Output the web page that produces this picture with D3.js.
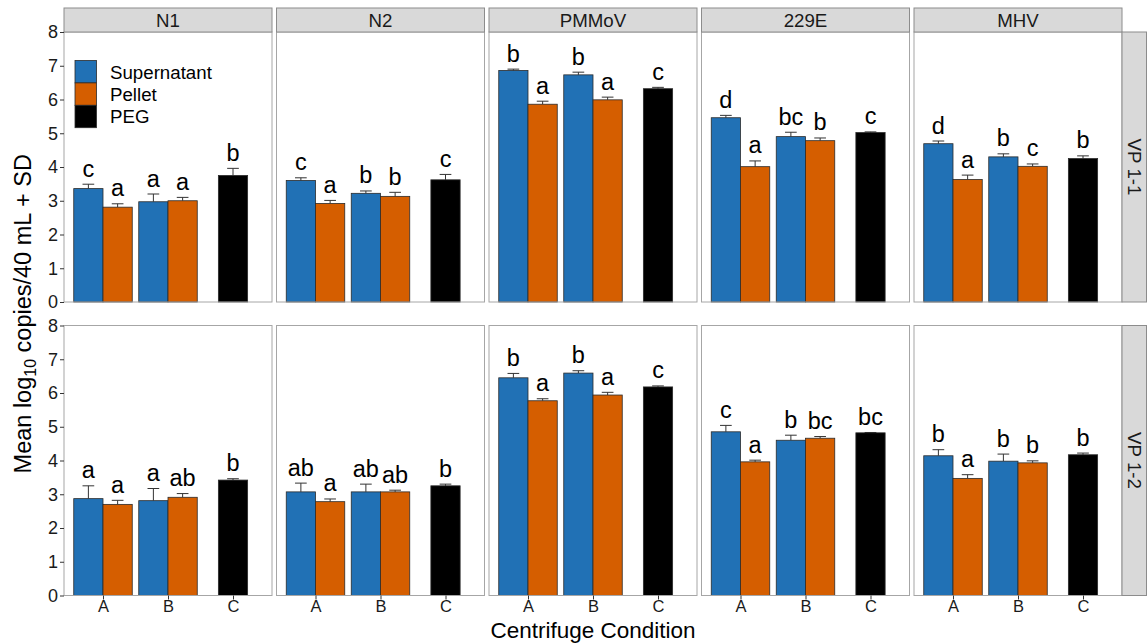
<!DOCTYPE html>
<html><head><meta charset="utf-8">
<script src="https://cdn.jsdelivr.net/npm/d3@7"></script>
<style>body{margin:0;background:#fff;} svg{display:block;font-family:Arial,"Liberation Sans",sans-serif;}</style>
</head><body>
<svg id="chart" width="1148" height="643"></svg>
<script>
// ---- data ----
const viruses = ["N1", "N2", "PMMoV", "229E", "MHV"];
const samples = ["VP 1-1", "VP 1-2"];
const conditions = ["A", "B", "C"];
const fractions = ["Supernatant", "Pellet", "PEG"];
// bar order inside each panel
const barCondition = ["A", "A", "B", "B", "C"];
const barFraction = ["Supernatant", "Pellet", "Supernatant", "Pellet", "PEG"];
const yTicks = [0, 1, 2, 3, 4, 5, 6, 7, 8];

// VP 1-1 (rows = viruses, columns = bars)
const meanVP11 = [
  [3.36, 2.81, 2.97, 3.00, 3.75],
  [3.60, 2.92, 3.22, 3.13, 3.62],
  [6.86, 5.86, 6.73, 5.99, 6.32],
  [5.46, 4.01, 4.90, 4.78, 5.02],
  [4.69, 3.63, 4.30, 4.02, 4.25]
];
const sdVP11 = [
  [0.13, 0.10, 0.23, 0.10, 0.21],
  [0.08, 0.09, 0.07, 0.12, 0.16],
  [0.04, 0.09, 0.08, 0.08, 0.04],
  [0.07, 0.17, 0.13, 0.08, 0.02],
  [0.08, 0.13, 0.09, 0.07, 0.08]
];
const letterVP11 = [
  ["c", "a", "a", "a", "b"],
  ["c", "a", "b", "b", "c"],
  ["b", "a", "b", "a", "c"],
  ["d", "a", "bc", "b", "c"],
  ["d", "a", "b", "c", "b"]
];
// VP 1-2
const meanVP12 = [
  [2.87, 2.70, 2.81, 2.91, 3.42],
  [3.07, 2.78, 3.07, 3.07, 3.25],
  [6.45, 5.77, 6.59, 5.94, 6.18],
  [4.85, 3.96, 4.60, 4.66, 4.82],
  [4.14, 3.47, 3.98, 3.93, 4.17]
];
const sdVP12 = [
  [0.38, 0.12, 0.36, 0.11, 0.04],
  [0.26, 0.08, 0.23, 0.05, 0.05],
  [0.13, 0.06, 0.07, 0.08, 0.03],
  [0.19, 0.05, 0.15, 0.05, 0.01],
  [0.18, 0.11, 0.21, 0.06, 0.05]
];
const letterVP12 = [
  ["a", "a", "a", "ab", "b"],
  ["ab", "a", "ab", "ab", "b"],
  ["b", "a", "b", "a", "c"],
  ["c", "a", "b", "bc", "bc"],
  ["b", "a", "b", "b", "b"]
];
const fillColors = ["#2171B5", "#D55E00", "#000000"];

// ---- layout ----
const FONT = "Arial,'Liberation Sans',sans-serif";
const svg = d3.select("#chart");
const panelLeft = 64, panelW = 208, panelGap = 4.5;
const rowTops = [32, 325.5], panelH = 270;
const stripH = 24, stripTop = 8, rightStripW = 24.5;
const fillScale = d3.scaleOrdinal().domain(fractions).range(fillColors);

const colX = d3.scaleBand().domain(viruses)
  .range([panelLeft, panelLeft + 5 * panelW + 4 * panelGap])
  .paddingInner(panelGap / (panelW + panelGap)).paddingOuter(0);

const rowData = [
  { mean: meanVP11, sd: sdVP11, letters: letterVP11 },
  { mean: meanVP12, sd: sdVP12, letters: letterVP12 }
];

const x = d3.scalePoint().domain(conditions).range([0, panelW]).padding(0.6);
const step = x.step();
const barW = 0.45 * step;
const capW = 0.18 * step;
function barCenter(i) {
  const c = x(barCondition[i]);
  if (barFraction[i] === "Supernatant") return c - barW / 2;
  if (barFraction[i] === "Pellet") return c + barW / 2;
  return c;
}

samples.forEach((s, r) => {
  const top = rowTops[r];
  const y = d3.scaleLinear().domain([0, 8]).range([top + panelH, top]);
  const rd = rowData[r];

  viruses.forEach((v, vi) => {
    const g = svg.append("g").attr("transform", `translate(${colX(v)},0)`);
    g.append("rect").attr("x", 0).attr("y", top).attr("width", panelW).attr("height", panelH)
      .attr("fill", "#fff");

    const bars = rd.mean[vi].map((m, i) => ({ m, sd: rd.sd[vi][i], lab: rd.letters[vi][i], i }));
    bars.forEach(b => {
      const cx = barCenter(b.i);
      g.append("line").attr("x1", cx).attr("x2", cx).attr("y1", y(b.m)).attr("y2", y(b.m + b.sd))
        .attr("stroke", "#333").attr("stroke-width", 1);
      g.append("line").attr("x1", cx - capW / 2).attr("x2", cx + capW / 2)
        .attr("y1", y(b.m + b.sd)).attr("y2", y(b.m + b.sd))
        .attr("stroke", "#333").attr("stroke-width", 1);
    });
    g.selectAll("rect.bar").data(bars).join("rect").attr("class", "bar")
      .attr("x", d => barCenter(d.i) - barW / 2)
      .attr("y", d => y(d.m))
      .attr("width", barW)
      .attr("height", d => y(0) - y(d.m))
      .attr("fill", d => fillScale(barFraction[d.i]))
      .attr("stroke", "#2b2b2b").attr("stroke-width", 0.8);
    g.selectAll("text.lab").data(bars).join("text").attr("class", "lab")
      .attr("x", d => barCenter(d.i))
      .attr("y", d => y(d.m + d.sd) - 7.5)
      .attr("text-anchor", "middle").attr("font-size", 23.5).attr("fill", "#000")
      .text(d => d.lab);

    g.append("rect").attr("x", 0).attr("y", top).attr("width", panelW).attr("height", panelH)
      .attr("fill", "none").attr("stroke", "#a6a6a6").attr("stroke-width", 1);

    if (r === 0) {
      g.append("rect").attr("x", 0).attr("y", stripTop).attr("width", panelW).attr("height", stripH)
        .attr("fill", "#d9d9d9").attr("stroke", "#8c8c8c").attr("stroke-width", 1);
      g.append("text").attr("x", panelW / 2).attr("y", stripTop + stripH / 2 + 6.7)
        .attr("text-anchor", "middle").attr("font-size", 18.7).attr("fill", "#1a1a1a").text(v);
    }
    if (r === 1) {
      const ax = g.append("g").attr("transform", `translate(0,${top + panelH})`)
        .call(d3.axisBottom(x).tickSize(4).tickPadding(1));
      ax.select(".domain").remove();
      ax.selectAll("line").attr("stroke", "#333");
      ax.selectAll("text").attr("font-size", 16.5).attr("fill", "#1a1a1a").attr("font-family", FONT);
    }
    if (vi === 0) {
      const ay = g.append("g").call(d3.axisLeft(y).tickValues(yTicks).tickFormat(d3.format("d")).tickSize(4).tickPadding(2));
      ay.select(".domain").remove();
      ay.selectAll("line").attr("stroke", "#333");
      ay.selectAll("text").attr("font-size", 18).attr("fill", "#1a1a1a").attr("font-family", FONT);
    }
  });

  const rx = colX(viruses[4]) + panelW;
  svg.append("rect").attr("x", rx).attr("y", top).attr("width", rightStripW).attr("height", panelH)
    .attr("fill", "#d9d9d9").attr("stroke", "#8c8c8c").attr("stroke-width", 1);
  svg.append("text").attr("transform", `translate(${rx + rightStripW / 2 - 6.7},${top + panelH / 2}) rotate(90)`)
    .attr("text-anchor", "middle").attr("font-size", 18.7).attr("fill", "#1a1a1a").text(s);
});

// legend inside first panel
const leg = svg.append("g").attr("transform", "translate(75,60.5)");
fractions.forEach((f, i) => {
  leg.append("rect").attr("x", 0).attr("y", i * 22.4).attr("width", 21.5).attr("height", 22.4)
    .attr("fill", fillScale(f)).attr("stroke", "#2b2b2b").attr("stroke-width", 0.8);
  leg.append("text").attr("x", 35).attr("y", i * 22.4 + 18)
    .attr("font-size", 18.7).attr("fill", "#000").text(f);
});

// axis titles
const midX = panelLeft + (5 * panelW + 4 * panelGap) / 2;
svg.append("text").attr("x", midX).attr("y", 638).attr("text-anchor", "middle")
  .attr("font-size", 22.5).attr("fill", "#000").text("Centrifuge Condition");
const yt = svg.append("text").attr("transform", `translate(31,${(rowTops[0] + rowTops[1] + panelH) / 2}) rotate(-90)`)
  .attr("text-anchor", "middle").attr("font-size", 23.5).attr("fill", "#000");
yt.append("tspan").text("Mean log");
yt.append("tspan").attr("font-size", 16).attr("dy", 5).text("10");
yt.append("tspan").attr("dy", -5).text(" copies/40 mL + SD");
</script>
</body></html>
